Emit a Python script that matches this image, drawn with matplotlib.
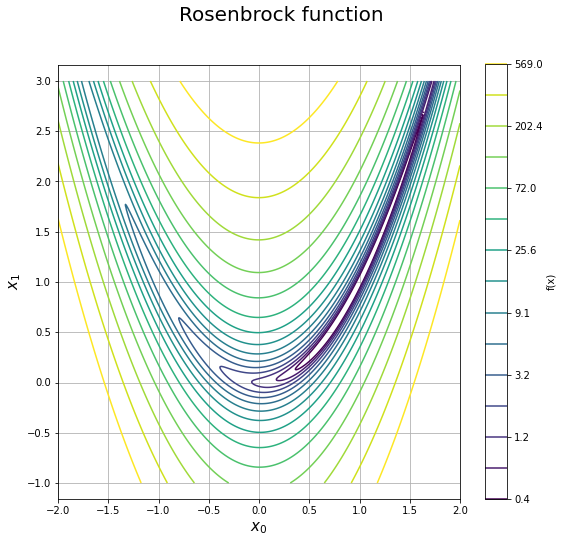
import numpy as np
import matplotlib
matplotlib.use("Agg")
import matplotlib.pyplot as plt
from matplotlib.colors import LogNorm

# Contour levels (log-spaced)
levels = [0.4097, 0.687, 1.152, 1.931, 3.237, 5.43, 9.107, 15.27,
          25.60, 42.92, 71.97, 120.7, 202.4, 339.3, 569.0]
x_range = [-2.0, 2.0]
y_range = [-1.0, 3.0]
n_grid = 400

x0 = np.linspace(x_range[0], x_range[1], n_grid)
x1 = np.linspace(y_range[0], y_range[1], n_grid)
X0, X1 = np.meshgrid(x0, x1)
F = (1 - X0) ** 2 + 100 * (X1 - X0 ** 2) ** 2

W, H = 563, 543
dpi = 72
fig = plt.figure(figsize=(W / dpi, H / dpi), dpi=dpi)
ax = fig.add_axes([58 / W, 1 - 499 / H, 402 / W, 434 / H])
cax = fig.add_axes([485 / W, 1 - 499 / H, 22 / W, 435 / H])

cs = ax.contour(X0, X1, F, levels=levels, cmap="viridis",
                norm=LogNorm(vmin=levels[0], vmax=levels[-1]), linewidths=1.5)
ax.set_xlim(-2, 2)
ax.set_aspect("equal", adjustable="datalim")
ax.grid(True)
ax.set_axisbelow(True)
ax.set_xlabel("$x_0$", fontsize=15)
ax.set_ylabel("$x_1$", fontsize=15)

cb = fig.colorbar(cs, cax=cax)
cb.set_ticks(levels[::2])
cb.set_ticklabels(["%.1f" % v for v in levels[::2]])
cb.ax.minorticks_off()
cb.set_label("f(x)")
for coll in cb.lines:
    coll.set_linewidth(2)
    coll.set_alpha(0.75)

fig.suptitle("Rosenbrock function", fontsize=20, y=1 - 6 / H, va="top")
fig.savefig("out.png", dpi=dpi)
